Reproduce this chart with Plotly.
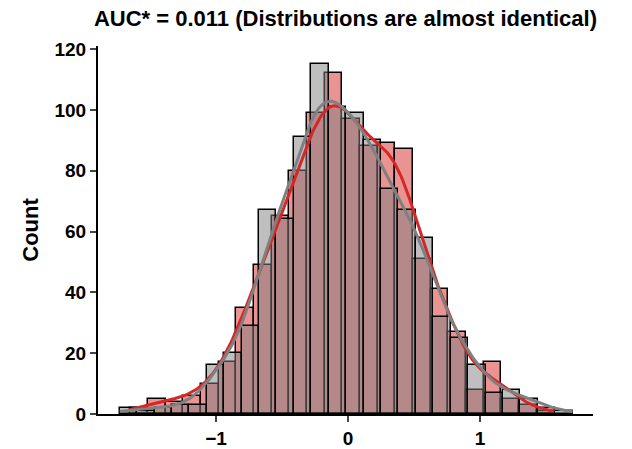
import numpy as np
import plotly.graph_objects as go

# gray series: bin start, width, counts
gray_start, gray_width = -1.73, 0.132
gray_counts = [2, 1, 2, 3, 3, 16, 20, 29, 67, 64, 91, 115, 101, 99, 90, 74, 67, 58, 32, 25, 16, 7, 8, 5, 2, 1]
# red series
red_start, red_width = -1.649, 0.1338
red_counts = [2, 5, 4, 6, 10, 17, 35, 49, 65, 80, 99, 112, 97, 88, 89, 87, 51, 41, 27, 8, 17, 5, 3, 1]

x_ticks = [-1, 0, 1]
y_ticks = [0, 20, 40, 60, 80, 100, 120]


def centers(start, width, counts):
    return start + width * (np.arange(len(counts)) + 0.5)


def kde(start, width, counts, bw=0.14):
    c = centers(start, width, counts)
    w = np.array(counts, float)
    xs = np.linspace(c[0] - width / 2, c[-1] + width / 2, 300)
    dens = (w[None, :] * np.exp(-0.5 * ((xs[:, None] - c[None, :]) / bw) ** 2)).sum(1)
    dens = dens / (bw * np.sqrt(2 * np.pi))
    return xs, dens * width


fig = go.Figure()
series = [
    (red_start, red_width, red_counts, "rgba(214,39,40,0.5)", "#d62728"),
    (gray_start, gray_width, gray_counts, "rgba(128,128,128,0.5)", "#808080"),
]
for start, width, counts, fill, _ in series:
    fig.add_bar(x=centers(start, width, counts), y=counts, width=width,
                marker=dict(color=fill, line=dict(color="black", width=1.5)),
                showlegend=False)
for start, width, counts, _, line in series:
    xs, ys = kde(start, width, counts)
    fig.add_scatter(x=xs, y=ys, mode="lines", line=dict(color=line, width=3),
                    showlegend=False)

font = dict(family="Liberation Sans, Arial", size=19, color="black")
fig.update_layout(
    barmode="overlay", bargap=0,
    width=632, height=449, plot_bgcolor="white", paper_bgcolor="white",
    margin=dict(l=90, r=47, t=38, b=43, autoexpand=False),
    title=dict(text="<b>AUC* = 0.011 (Distributions are almost identical)</b>",
               x=0.534, xref="container", xanchor="center",
               y=0.995, yref="container", yanchor="top",
               font=dict(family="Liberation Sans, Arial", size=22, color="black")),
    font=font,
)
fig.update_xaxes(range=[-1.894, 1.856], tickvals=x_ticks,
                 ticktext=[f"<b>{'−1' if v < 0 else v}</b>" for v in x_ticks],
                 showline=True, linecolor="black", linewidth=2, ticks="outside",
                 ticklen=6, tickwidth=2, showgrid=False, zeroline=False)
fig.update_yaxes(range=[0, 121], tickvals=y_ticks,
                 ticktext=[f"<b>{v}</b>" for v in y_ticks],
                 title=dict(text="<b>Count</b>", font=dict(size=22), standoff=10),
                 showline=True, linecolor="black", linewidth=2, ticks="outside",
                 ticklen=6, tickwidth=2, showgrid=False, zeroline=False)

fig.write_html("out.html")
